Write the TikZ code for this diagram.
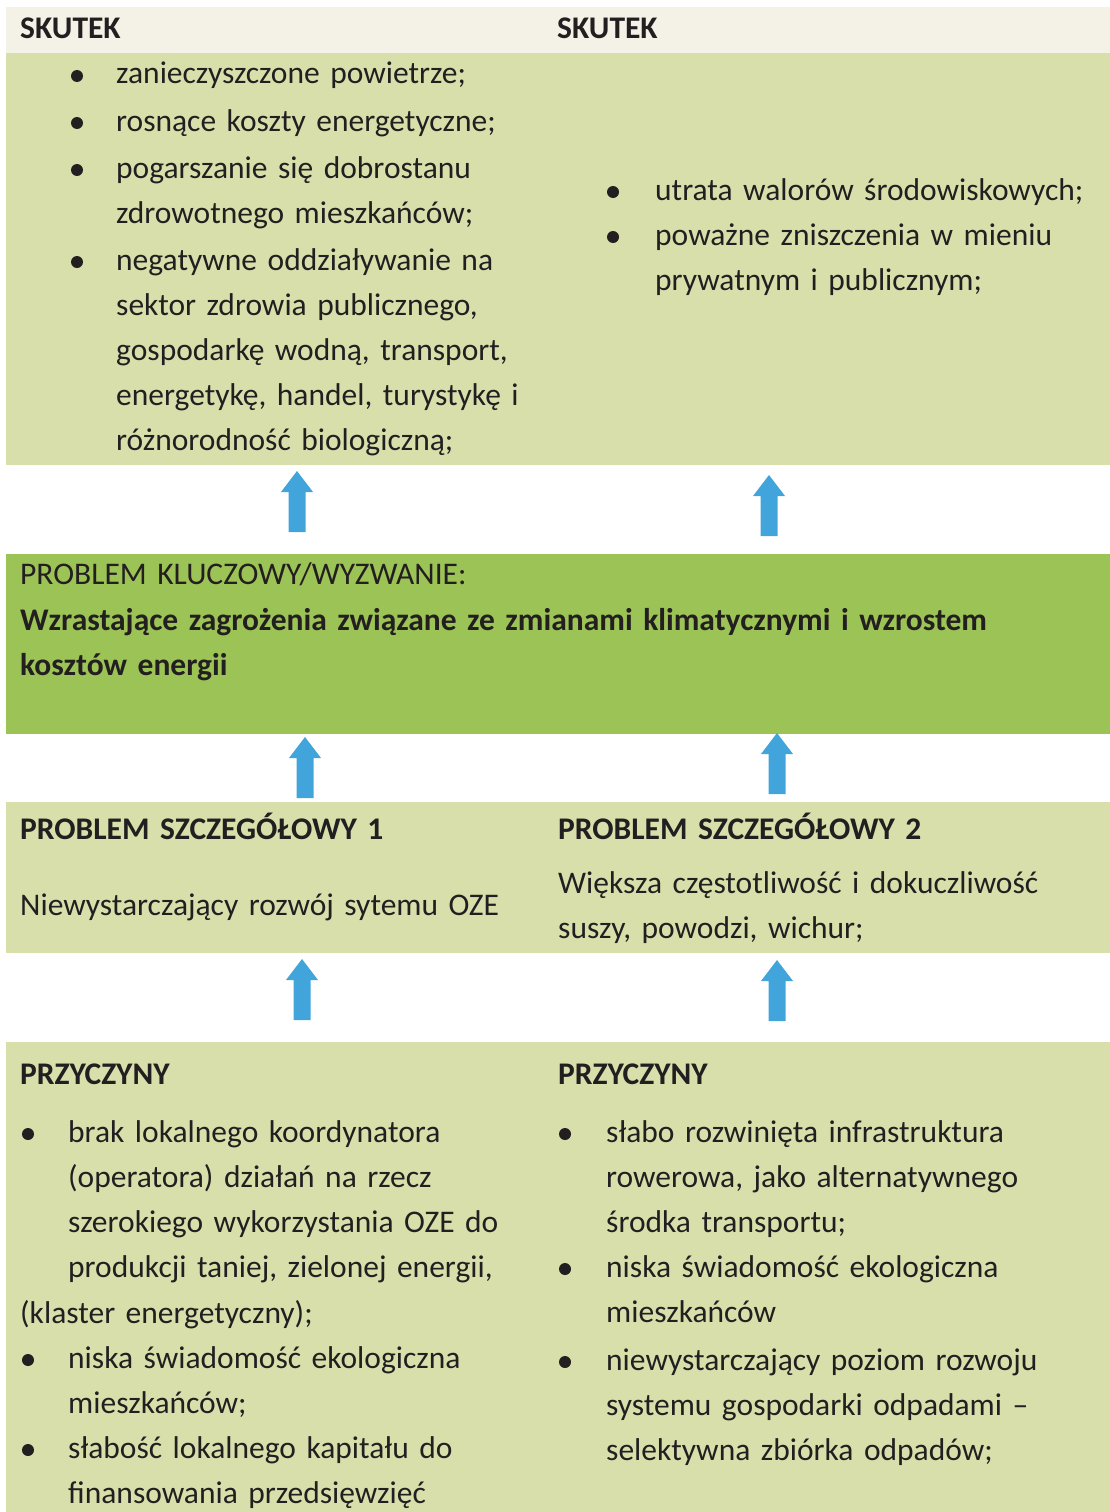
\documentclass[tikz,border=0pt]{standalone}
\usepackage{fontspec}
\setmainfont{Carlito}
\usetikzlibrary{calc}
\definecolor{cream}{HTML}{F4F2E6}
\definecolor{olive}{HTML}{D9DFAB}
\definecolor{keygreen}{HTML}{9CC355}
\definecolor{arrblue}{HTML}{41A4DB}
\definecolor{ink}{HTML}{231F20}
\newcommand\blockup[2]{\fill[arrblue] ($(#1)+(-8.5,0)$) -- ($(#2)+(-8.5,21)$) -- ($(#2)+(-16,21)$) -- (#2) -- ($(#2)+(16,21)$) -- ($(#2)+(8.5,21)$) -- ($(#1)+(8.5,0)$) -- cycle;}
\begin{document}
\begin{tikzpicture}[x=1pt,y=-1pt,
  panel/.style={draw=none, inner sep=0pt, outer sep=0pt, anchor=north west, minimum width=1104pt},
  txt/.style={inner sep=0pt, anchor=base west, text=ink, font=\fontsize{31.5}{45}\selectfont, align=left, text width=#1},
  txt/.default=540pt,
  btxt/.style={txt, font=\fontsize{31.5}{45}\selectfont\bfseries},
  bul/.style={circle, fill=ink, inner sep=0pt, minimum size=12pt}
]
\useasboundingbox (0,0) rectangle (1110,1512);
% panels
\node[panel, fill=cream, minimum height=46pt] (head) at (6,7) {};
\node[panel, fill=olive, minimum height=412pt] (effect) at (6,53) {};
\node[panel, fill=keygreen, minimum height=180pt] (key) at (6,554) {};
\node[panel, fill=olive, minimum height=151pt] (detail) at (6,802) {};
\node[panel, fill=olive, minimum height=470pt] (causes) at (6,1042) {};

% header
\node[btxt] (sk1) at (20,39) {SKUTEK};
\node[btxt] (sk2) at (557,39) {SKUTEK};

% effects left
\node[bul] (e1b) at (77,76) {};
\node[txt] (e1) at (116,84) {zanieczyszczone powietrze;};
\node[bul] (e2b) at (77,123) {};
\node[txt] (e2) at (116,131) {rosnące koszty energetyczne;};
\node[bul] (e3b) at (77,170) {};
\node[txt] (e3) at (116,178) {pogarszanie się dobrostanu\\zdrowotnego mieszkańców;};
\node[bul] (e4b) at (77,262) {};
\node[txt] (e4) at (116,270) {negatywne oddziaływanie na\\sektor zdrowia publicznego,\\gospodarkę wodną, transport,\\energetykę, handel, turystykę i\\różnorodność biologiczną;};

% effects right
\node[bul] (f1b) at (613,192) {};
\node[txt=450pt] (f1) at (655,200) {utrata walorów środowiskowych;};
\node[bul] (f2b) at (613,237) {};
\node[txt=450pt] (f2) at (655,245) {poważne zniszczenia w mieniu\\prywatnym i publicznym;};

% key problem
\node[txt=1050pt] (kp1) at (20,584) {PROBLEM KLUCZOWY/WYZWANIE:};
\node[btxt, text width=1050pt] (kp2) at (20,630) {Wzrastające zagrożenia związane ze zmianami klimatycznymi i wzrostem\\kosztów energii};

% detailed problems
\node[btxt] (d1h) at (20,839) {PROBLEM SZCZEGÓŁOWY 1};
\node[txt] (d1) at (20,915) {Niewystarczający rozwój sytemu OZE};
\node[btxt] (d2h) at (558,839) {PROBLEM SZCZEGÓŁOWY 2};
\node[txt] (d2) at (558,893) {Większa częstotliwość i dokuczliwość\\suszy, powodzi, wichur;};

% causes left
\node[btxt] (c1h) at (20,1084) {PRZYCZYNY};
\node[bul] (c1b) at (28,1134) {};
\node[txt] (c1) at (68,1142) {brak lokalnego koordynatora\\(operatora) działań na rzecz\\szerokiego wykorzystania OZE do\\produkcji taniej, zielonej energii,};
\node[txt] (c1x) at (20,1323) {(klaster energetyczny);};
\node[bul] (c2b) at (28,1360) {};
\node[txt] (c2) at (68,1368) {niska świadomość ekologiczna\\mieszkańców;};
\node[bul] (c3b) at (28,1450) {};
\node[txt] (c3) at (68,1458) {słabość lokalnego kapitału do\\finansowania przedsięwzięć};

% causes right
\node[btxt] (r1h) at (558,1084) {PRZYCZYNY};
\node[bul] (r1b) at (565,1134) {};
\node[txt=495pt] (r1) at (606,1142) {słabo rozwinięta infrastruktura\\rowerowa, jako alternatywnego\\środka transportu;};
\node[bul] (r2b) at (565,1269) {};
\node[txt=495pt] (r2) at (606,1277) {niska świadomość ekologiczna\\mieszkańców};
\node[bul] (r3b) at (565,1362) {};
\node[txt=495pt] (r3) at (606,1370) {niewystarczający poziom rozwoju\\systemu gospodarki odpadami –\\selektywna zbiórka odpadów;};

% arrows
\coordinate (a1s) at (key.north -| 297,0);
\coordinate (a1e) at (effect.south -| 297,0);
\blockup{$(a1s)+(0,-22)$}{$(a1e)+(0,6)$}
\coordinate (a2s) at (769,536);
\coordinate (a2e) at (769,475);
\blockup{a2s}{a2e}
\coordinate (a3s) at (305,798);
\coordinate (a3e) at (305,737);
\blockup{a3s}{a3e}
\coordinate (a4s) at (777,794);
\coordinate (a4e) at (777,733);
\blockup{a4s}{a4e}
\coordinate (a5s) at (302,1020);
\coordinate (a5e) at (302,959);
\blockup{a5s}{a5e}
\coordinate (a6s) at (777,1021);
\coordinate (a6e) at (777,960);
\blockup{a6s}{a6e}
\end{tikzpicture}
\end{document}
